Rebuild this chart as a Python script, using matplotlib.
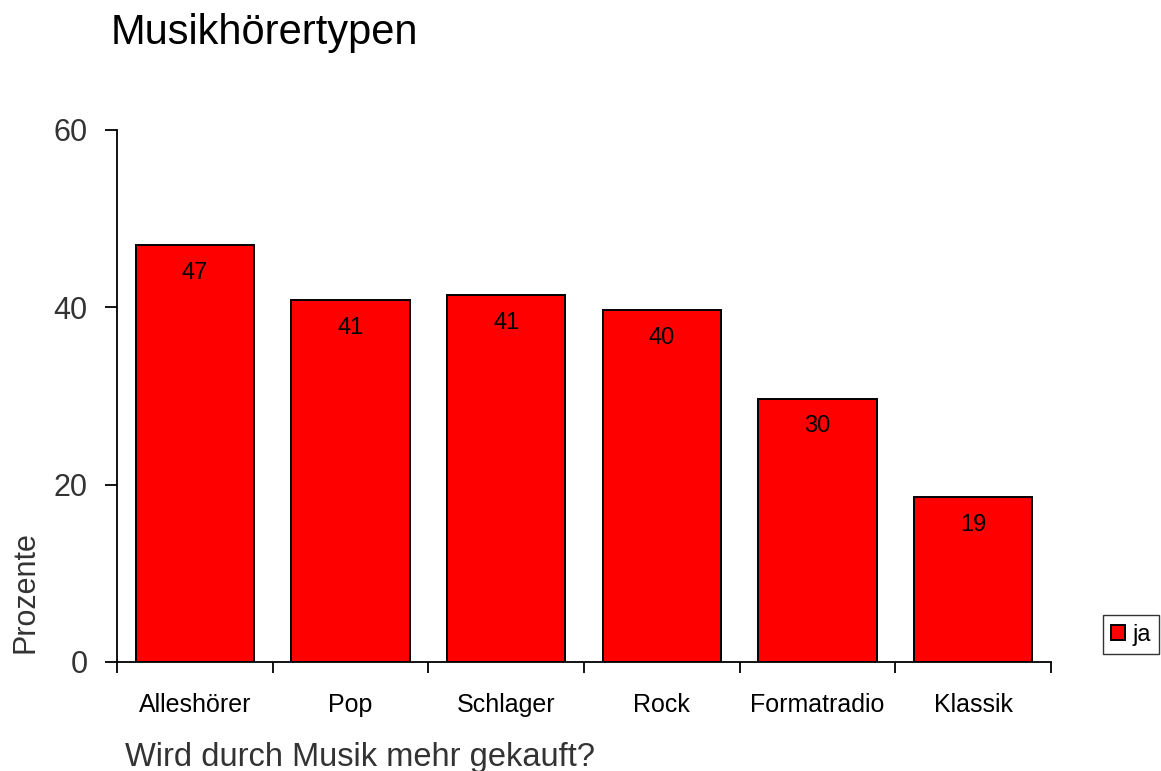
import numpy as np
import matplotlib.pyplot as plt

# === Data ===
categories = ['Alleshörer', 'Pop', 'Schlager', 'Rock', 'Formatradio', 'Klassik']
values = [47.0, 40.8, 41.4, 39.7, 29.7, 18.6]
bar_labels = ['47', '41', '41', '40', '30', '19']
series_name = 'ja'

plt.rcParams['font.family'] = ['Liberation Sans', 'DejaVu Sans']

# === Figure ===
fig = plt.figure(figsize=(11.61, 7.71), dpi=100)
ax = fig.add_axes([0.1008, 0.1414, 0.8045, 0.69])

x = np.arange(len(categories))
bars = ax.bar(x, values, width=0.76, color='#ff0000', edgecolor='black',
              linewidth=1.4, label=series_name)

for b, lab in zip(bars, bar_labels):
    ax.text(b.get_x() + b.get_width() / 2, b.get_height() - 1.9, lab,
            ha='center', va='top', fontsize=17)

ax.set_xlim(-0.5, len(categories) - 0.5)
ax.set_ylim(0, 60)
ax.set_yticks([0, 20, 40, 60])
ax.tick_params(axis='y', labelsize=22, length=9, width=1.3, direction='out',
               labelcolor='#333333', pad=12)

# category boundaries as major ticks, labels at centres
ax.set_xticks(np.arange(-0.5, len(categories), 1.0))
ax.set_xticklabels([])
ax.set_xticks(x, minor=True)
ax.set_xticklabels(categories, minor=True, fontsize=18)
ax.tick_params(axis='x', which='major', length=8, width=1.3, direction='out')
ax.tick_params(axis='x', which='minor', length=0, pad=22)

for s in ['top', 'right']:
    ax.spines[s].set_visible(False)
for s in ['left', 'bottom']:
    ax.spines[s].set_linewidth(1.3)

fig.text(25 / 1161, 1 - 592 / 771, 'Prozente', fontsize=22, color='#333333',
         rotation=90, ha='center', va='center')
fig.text(0.108, 0.018, 'Wird durch Musik mehr gekauft?', fontsize=23.5,
         color='#333333', ha='left', va='center')

fig.text(0.095, 0.957, 'Musikhörertypen', fontsize=30, ha='left', va='center')

leg = fig.legend(loc='center', bbox_to_anchor=(0.974, 0.177), fontsize=17,
                 frameon=True, fancybox=False, edgecolor='black',
                 handlelength=0.6, handleheight=0.6, handletextpad=0.3,
                 borderpad=0.35, borderaxespad=0)
leg.get_frame().set_linewidth(1.0)

fig.savefig('out.png', dpi=100)
